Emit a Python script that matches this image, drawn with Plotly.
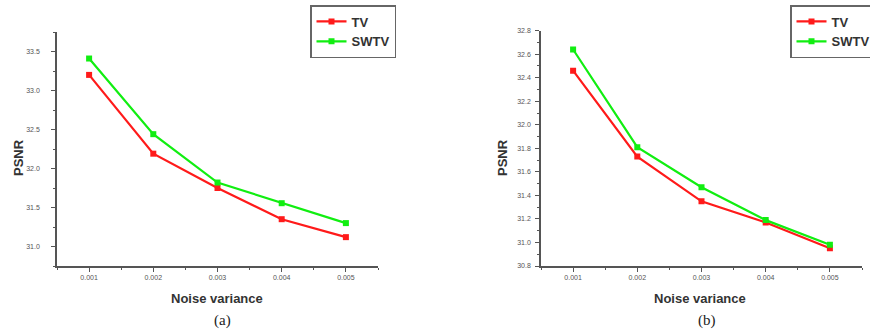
import plotly.graph_objects as go

noise_variance = [0.001, 0.002, 0.003, 0.004, 0.005]

# Panel (a)
psnr_tv_a = [33.20, 32.19, 31.75, 31.35, 31.12]
psnr_swtv_a = [33.41, 32.44, 31.82, 31.555, 31.30]

# Panel (b)
psnr_tv_b = [32.46, 31.73, 31.35, 31.17, 30.95]
psnr_swtv_b = [32.64, 31.81, 31.47, 31.19, 30.98]

W, H = 870, 335
RED = "#ff1a1a"
GREEN = "#11ee11"
AXC = "#555555"
TICKFONT = dict(family="Liberation Sans, Arial, sans-serif", size=7, color="#555555")


def px_x(a, b):
    return [a / W, b / W]


def px_y(top, bottom):
    return [(H - bottom) / H, (H - top) / H]


fig = go.Figure()

for name, ys, col, xa, ya, lg in [
    ("TV", psnr_tv_a, RED, "x", "y", "legend"),
    ("SWTV", psnr_swtv_a, GREEN, "x", "y", "legend"),
    ("TV", psnr_tv_b, RED, "x2", "y2", "legend2"),
    ("SWTV", psnr_swtv_b, GREEN, "x2", "y2", "legend2"),
]:
    fig.add_trace(go.Scatter(
        x=noise_variance, y=ys, name=name, mode="lines+markers",
        line=dict(color=col, width=2.2),
        marker=dict(symbol="square", size=6, color=col),
        xaxis=xa, yaxis=ya, legend=lg,
    ))

common_x = dict(
    range=[0.0005, 0.0055], tickvals=noise_variance, tickformat=".3f",
    showgrid=False, zeroline=False, showline=True, linecolor=AXC, linewidth=1.5,
    ticks="outside", ticklen=4, tickcolor=AXC, tickwidth=1, tickfont=TICKFONT,
    automargin=False,
    minor=dict(dtick=0.0005, tick0=0.0005, ticks="outside", ticklen=2, tickcolor=AXC),
)
common_y = dict(
    showgrid=False, zeroline=False, showline=True, linecolor=AXC, linewidth=1.5,
    ticks="outside", ticklen=4, tickcolor=AXC, tickwidth=1, tickfont=TICKFONT,
    tickformat=".1f", automargin=False,
)

legend_common = dict(
    bordercolor="#666666", borderwidth=1.5, bgcolor="rgba(255,255,255,0)",
    font=dict(family="Liberation Sans, Arial, sans-serif", size=13, color="#333333", weight="bold"),
    xanchor="left", yanchor="top", itemwidth=30, tracegroupgap=0,
)

fig.update_layout(
    width=W, height=H, margin=dict(l=0, r=0, t=0, b=0, autoexpand=False),
    paper_bgcolor="white", plot_bgcolor="white",
    xaxis=dict(domain=px_x(57, 378), anchor="y", **common_x),
    yaxis=dict(domain=px_y(32, 266), anchor="x", range=[30.75, 33.75],
               tickvals=[31.0, 31.5, 32.0, 32.5, 33.0, 33.5], ticklabelstandoff=10,
               minor=dict(dtick=0.25, tick0=30.75, ticks="outside", ticklen=2, tickcolor=AXC),
               **common_y),
    xaxis2=dict(domain=px_x(541, 862), anchor="y2", **common_x),
    yaxis2=dict(domain=px_y(30.7, 266), anchor="x2", range=[30.8, 32.8],
                tickvals=[30.8, 31.0, 31.2, 31.4, 31.6, 31.8, 32.0, 32.2, 32.4, 32.6, 32.8],
                ticklabelstandoff=3,
                minor=dict(dtick=0.1, tick0=30.8, ticks="outside", ticklen=2, tickcolor=AXC),
                **common_y),
    legend=dict(x=310 / W, y=1 - 5 / H, **legend_common),
    legend2=dict(x=790 / W, y=1 - 5 / H, **legend_common),
    showlegend=True,
)

title_font = dict(family="Liberation Sans, Arial, sans-serif", size=13, color="#333333", weight="bold")
cap_font = dict(family="Liberation Serif, Times New Roman, serif", size=15, color="#222222")

for xc, yc, txt, font, ang in [
    (18, 158, "PSNR", title_font, -90),
    (502, 158, "PSNR", title_font, -90),
    (217, 298, "Noise variance", title_font, 0),
    (700, 298, "Noise variance", title_font, 0),
    (222, 320, "(a)", cap_font, 0),
    (707, 320, "(b)", cap_font, 0),
]:
    fig.add_annotation(x=xc / W, y=1 - yc / H, xref="paper", yref="paper",
                       text=txt, showarrow=False, font=font, textangle=ang,
                       xanchor="center", yanchor="middle")

fig.write_html("out.html", config={"displayModeBar": False},
               post_script="document.body.style.margin='0';")
